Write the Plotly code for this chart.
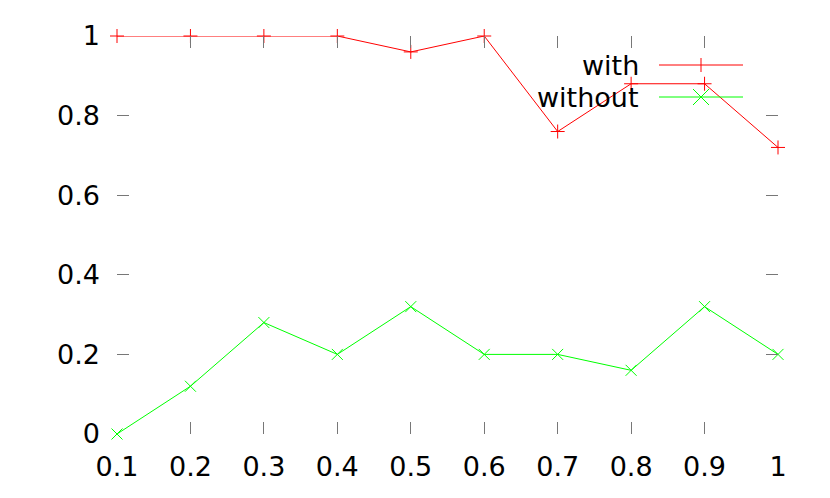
import plotly.graph_objects as go

# data
x_vals = [0.1, 0.2, 0.3, 0.4, 0.5, 0.6, 0.7, 0.8, 0.9, 1.0]
with_vals = [1.0, 1.0, 1.0, 1.0, 0.96, 1.0, 0.76, 0.88, 0.88, 0.72]
without_vals = [0.0, 0.12, 0.28, 0.2, 0.32, 0.2, 0.2, 0.16, 0.32, 0.2]
x_ticks = [0.1, 0.2, 0.3, 0.4, 0.5, 0.6, 0.7, 0.8, 0.9, 1.0]
x_tick_text = ["0.1", "0.2", "0.3", "0.4", "0.5", "0.6", "0.7", "0.8", "0.9", "1"]
y_ticks = [0, 0.2, 0.4, 0.6, 0.8, 1.0]
y_tick_text = ["0", "0.2", "0.4", "0.6", "0.8", "1"]

RED = "rgb(255, 0, 0)"
GREEN = "rgb(0, 255, 0)"
TICK = "#777777"
FONT = "DejaVu Sans"

# the page body has an 8px margin, so the figure sits at (8, 8) on screen
OFF = 8
W, H = 830 - OFF, 498 - OFF
L, R, T, B = 117 - OFF, 52, 36 - OFF, 64
PW, PH = W - L - R, H - T - B


# screen pixel -> paper coordinates
def px(xs):
    return (xs - OFF - L) / PW


def py(ys):
    return (H - B - (ys - OFF)) / PH


fig = go.Figure()
fig.add_trace(
    go.Scatter(
        x=x_vals, y=with_vals, mode="lines+markers", name="with",
        line=dict(color=RED, width=1),
        marker=dict(symbol="cross-thin-open", size=10, line=dict(color=RED, width=1)),
        cliponaxis=False,
    )
)
fig.add_trace(
    go.Scatter(
        x=x_vals, y=without_vals, mode="lines+markers", name="without",
        line=dict(color=GREEN, width=1),
        marker=dict(symbol="x-thin-open", size=11, line=dict(color=GREEN, width=1)),
        cliponaxis=False,
    )
)

# gnuplot-style key: text on the left, sample on the right
shapes = []
annotations = []
for label, color, ycen, kind in [("with", RED, 65, "plus"), ("without", GREEN, 97, "x")]:
    annotations.append(dict(
        x=px(641), y=py(ycen), xref="paper", yref="paper", text=label,
        xanchor="right", yanchor="middle", showarrow=False,
        font=dict(family=FONT, size=27, color="black"),
    ))
    shapes.append(dict(type="line", xref="paper", yref="paper",
                       x0=px(659), x1=px(743), y0=py(ycen), y1=py(ycen),
                       line=dict(color=color, width=1)))
    if kind == "plus":
        shapes.append(dict(type="line", xref="paper", yref="paper",
                           x0=px(701), x1=px(701), y0=py(ycen - 7), y1=py(ycen + 7),
                           line=dict(color=color, width=1)))
    else:
        for s in (1, -1):
            shapes.append(dict(type="line", xref="paper", yref="paper",
                               x0=px(701 - 8), x1=px(701 + 8),
                               y0=py(ycen - 8 * s), y1=py(ycen + 8 * s),
                               line=dict(color=color, width=1)))

axis_common = dict(
    showgrid=False, zeroline=False, showline=False,
    ticks="inside", ticklen=12, tickwidth=1, tickcolor=TICK,
    mirror="ticks",
    tickfont=dict(family=FONT, size=27, color="black"),
)

fig.update_layout(
    width=W, height=H,
    margin=dict(l=L, r=R, t=T, b=B),
    paper_bgcolor="white", plot_bgcolor="white",
    showlegend=False,
    xaxis=dict(range=[0.1, 1.0], tickvals=x_ticks, ticktext=x_tick_text,
               ticklabelstandoff=14, **axis_common),
    yaxis=dict(range=[0, 1.0], tickvals=y_ticks, ticktext=y_tick_text,
               ticklabelstandoff=16, **axis_common),
    shapes=shapes,
    annotations=annotations,
)

fig.write_html("out.html")
